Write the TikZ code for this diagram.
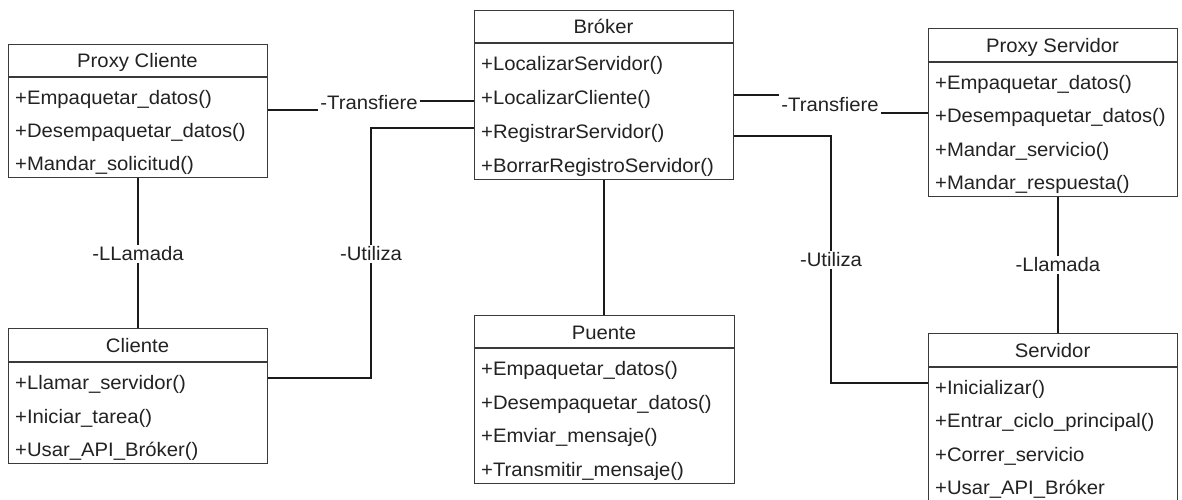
\documentclass[tikz,border=0pt]{standalone}
\usepackage{fontspec}
\setmainfont{Liberation Sans}[FakeStretch=1.04]
\definecolor{boxline}{HTML}{3A3A3A}
\definecolor{connline}{HTML}{1A1A1A}
\definecolor{txt}{HTML}{222222}
\tikzset{
  clsbox/.style={draw=boxline, line width=1.1pt, inner sep=0pt, fill=white},
  clsline/.style={draw=boxline, line width=1.1pt},
  conn/.style={draw=connline, line width=1.2pt},
  lbl/.style={inner sep=2pt, text=txt, font=\fontsize{19.5}{21}\selectfont},
  ttl/.style={anchor=base, inner sep=0pt, text=txt, font=\fontsize{19.5}{21}\selectfont},
  rowtxt/.style={anchor=base west, inner sep=0pt, text=txt, font=\fontsize{19.5}{21}\selectfont},
}
% name, x1, y1, x2, yh, y2, nrows, title, rows
\newcommand\umlclass[9]{%
  \node[clsbox, minimum width={#4-#2}, minimum height={#6-#3}, anchor=north west] (#1) at (#2,#3) {};
  \draw[clsline] (#2,#5) -- (#4,#5);
  \node[ttl] (#1-t) at ({(#2+#4)/2},{(#3+#5)/2+7.5}) {#8};
  \foreach \r [count=\i] in {#9} {
    \node[rowtxt] (#1-\i) at ({#2+7},{#5+(\i-0.5)*(#6-#5)/#7+10.5}) {\r};
  }
}
\begin{document}
\begin{tikzpicture}[x=1pt,y=-1pt]
\useasboundingbox (0,0) rectangle (1182,500);
\clip (0,0) rectangle (1182,500);

\umlclass{pc}{8}{44}{267}{77}{177}{3}{Proxy Cliente}{+Empaquetar\_datos(),+Desempaquetar\_datos(),+Mandar\_solicitud()}
\umlclass{br}{474}{10}{733}{43}{179}{4}{Bróker}{+LocalizarServidor(),+LocalizarCliente(),+RegistrarServidor(),+BorrarRegistroServidor()}
\umlclass{ps}{928}{28}{1177}{62}{196}{4}{Proxy Servidor}{+Empaquetar\_datos(),+Desempaquetar\_datos(),+Mandar\_servicio(),+Mandar\_respuesta()}
\umlclass{cl}{8}{328}{267}{362}{463}{3}{Cliente}{+Llamar\_servidor(),+Iniciar\_tarea(),+Usar\_API\_Bróker()}
\umlclass{pu}{474}{315}{734}{348}{483}{4}{Puente}{+Empaquetar\_datos(),+Desempaquetar\_datos(),+Emviar\_mensaje(),+Transmitir\_mensaje()}
\umlclass{sv}{928}{333}{1177}{367}{501}{4}{Servidor}{+Inicializar(),+Entrar\_ciclo\_principal(),+Correr\_servicio,+Usar\_API\_Bróker}

% Proxy Cliente -- Broker
\node[lbl] (t1) at (369,103) {-Transfiere};
\draw[conn] (pc.east |- 0,110) -- (t1.west |- 0,110);
\draw[conn] (t1.east |- 0,101) -- (br.west |- 0,101);

% Broker -- Proxy Servidor
\node[lbl] (t2) at (830,105) {-Transfiere};
\draw[conn] (br.east |- 0,95) -- (t2.west |- 0,95);
\draw[conn] (t2.east |- 0,113) -- (ps.west |- 0,113);

% Proxy Cliente -- Cliente
\coordinate (c4) at (138,0);
\draw[conn] (pc.south -| c4) -- (cl.north -| c4);
\node[lbl, fill=white] (l1) at (138,254) {-LLamada};

% Cliente -- Broker
\coordinate (u1) at (371,378);
\coordinate (u2) at (371,128);
\draw[conn] (cl.east |- u1) -- (u1) -- (u2) -- (br.west |- u2);
\node[lbl, fill=white] (l2) at (371,254) {-Utiliza};

% Broker -- Puente
\coordinate (c5) at (604,0);
\draw[conn] (br.south -| c5) -- (pu.north -| c5);

% Broker -- Servidor
\coordinate (u3) at (831,136);
\coordinate (u4) at (831,383);
\draw[conn] (br.east |- u3) -- (u3) -- (u4) -- (sv.west |- u4);
\node[lbl, fill=white] (l3) at (831,260) {-Utiliza};

% Proxy Servidor -- Servidor
\coordinate (c7) at (1058,0);
\draw[conn] (ps.south -| c7) -- (sv.north -| c7);
\node[lbl, fill=white] (l4) at (1058,265) {-Llamada};
\end{tikzpicture}
\end{document}
